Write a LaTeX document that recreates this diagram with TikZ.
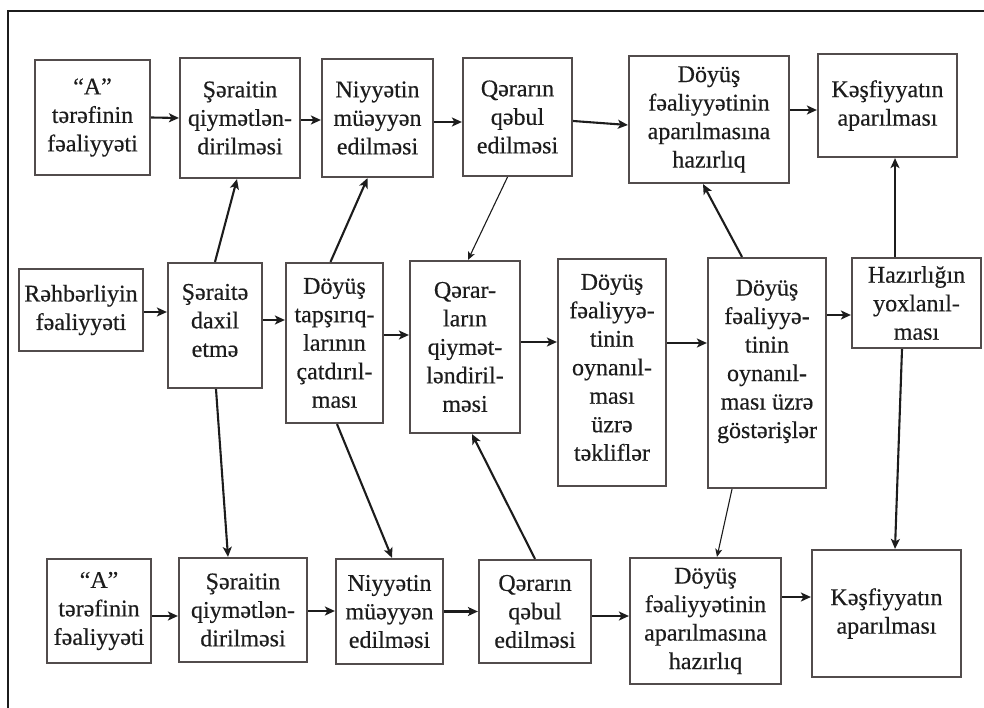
\documentclass[tikz,border=0pt]{standalone}
\usepackage{fontspec}
\setmainfont{Liberation Serif}
\newfontfamily\boxfont[FakeBold=0.4]{Liberation Serif}
\usetikzlibrary{arrows.meta}
\definecolor{boxline}{RGB}{82,76,76}
\definecolor{ink}{RGB}{28,28,28}
\tikzset{
  blk/.style={draw=boxline, line width=2.2pt, inner sep=0pt, align=center,
    text=ink, font=\boxfont\fontsize{24}{28.5}\selectfont},
  txt/.style={inner sep=0pt, align=center, text=ink,
    font=\boxfont\fontsize{24}{28.5}\selectfont},
  conn/.style={draw=ink, line width=2.1pt,
    -{Stealth[length=10pt,width=9pt,inset=2.5pt]}},
  thin/.style={draw=ink, line width=1.1pt,
    -{Stealth[length=8pt,width=7pt,inset=2pt]}},
}
\begin{document}
\begin{tikzpicture}[x=1pt,y=-1pt]
\useasboundingbox (0,0) rectangle (984,708);
% outer frame
\draw[ink, line width=2.6pt] (8,708) -- (8,11) -- (984,11);

% top row
\node[blk, minimum width=115, minimum height=115] (a1) at (92.5,117.5) {“A”\\tərəfinin\\fəaliyyəti};
\node[blk, minimum width=120, minimum height=120] (s1) at (240,118) {Şəraitin\\qiymətlən-\\dirilməsi};
\node[blk, minimum width=111, minimum height=118] (n1) at (377.5,118) {Niyyətin\\müəyyən\\edilməsi};
\node[blk, minimum width=109, minimum height=118] (q1) at (517.5,117) {Qərarın\\qəbul\\edilməsi};
\node[blk, minimum width=160, minimum height=127] (d1) at (709,119.5) {Döyüş\\fəaliyyətinin\\aparılmasına\\hazırlıq};
\node[blk, minimum width=139, minimum height=103] (k1) at (887.5,105.5) {Kəşfiyyatın\\aparılması};

% middle row
\node[blk, minimum width=124, minimum height=82] (r) at (81,310) {Rəhbərliyin\\fəaliyyəti};
\node[blk, minimum width=94, minimum height=125] (s2) at (215,325.5) {};
\node[txt] (s2t) at ([yshift=5pt]s2.center) {Şəraitə\\daxil\\etmə};
\node[blk, minimum width=97, minimum height=160] (dt) at (334.5,343) {Döyüş\\tapşırıq-\\larının\\çatdırıl-\\ması};
\node[blk, minimum width=110, minimum height=172] (qq) at (465,347) {Qərar-\\ların\\qiymət-\\ləndiril-\\məsi};
\node[blk, minimum width=108, minimum height=227] (df) at (612,372.5) {};
\node[txt] (dft) at ([yshift=5pt]df.center) {Döyüş\\fəaliyyə-\\tinin\\oynanıl-\\ması\\üzrə\\təkliflər};
\node[blk, minimum width=118, minimum height=230] (dg) at (767,373) {};
\node[txt] (dgt) at ([yshift=11.5pt]dg.center) {Döyüş\\fəaliyyə-\\tinin\\oynanıl-\\ması üzrə\\göstərişlər};
\node[blk, minimum width=129, minimum height=90] (h) at (916.5,303) {Hazırlığın\\yoxlanıl-\\ması};

% bottom row
\node[blk, minimum width=104, minimum height=104] (a2) at (99,611) {“A”\\tərəfinin\\fəaliyyəti};
\node[blk, minimum width=128, minimum height=104] (s3) at (243,610) {Şəraitin\\qiymətlən-\\dirilməsi};
\node[blk, minimum width=107, minimum height=105] (n2) at (389.5,611.5) {Niyyətin\\müəyyən\\edilməsi};
\node[blk, minimum width=112, minimum height=103] (q2) at (535,611.5) {Qərarın\\qəbul\\edilməsi};
\node[blk, minimum width=151, minimum height=126] (d2) at (705.5,621) {Döyüş\\fəaliyyətinin\\aparılmasına\\hazırlıq};
\node[blk, minimum width=149, minimum height=127] (k2) at (886.5,613.5) {Kəşfiyyatın\\aparılması};

% horizontal flow, top row
\draw[conn] (a1.east) -- (s1.west);
\draw[conn] ([yshift=-2pt]s1.east) -- ([yshift=-2pt]n1.west);
\draw[conn] ([yshift=-4pt]n1.east) -- ([yshift=-5pt]q1.west);
\draw[conn] ([yshift=-4pt]q1.east) -- ([yshift=-5.5pt]d1.west);
\draw[conn] ([yshift=9.5pt]d1.east) -- ([yshift=-4.5pt]k1.west);

% horizontal flow, middle row
\draw[conn] ([yshift=-2pt]r.east) -- ([yshift=13.5pt]s2.west);
\draw[conn] ([yshift=5.5pt]s2.east) -- ([yshift=23pt]dt.west);
\draw[conn] ([yshift=8pt]dt.east) -- ([yshift=12pt]qq.west);
\draw[conn] ([yshift=5pt]qq.east) -- ([yshift=30.5pt]df.west);
\draw[conn] ([yshift=29.5pt]df.east) -- ([yshift=30pt]dg.west);
\draw[conn] ([yshift=58pt]dg.east) -- ([yshift=-12pt]h.west);

% horizontal flow, bottom row
\draw[conn] ([yshift=-5pt]a2.east) -- ([yshift=-6pt]s3.west);
\draw[conn] ([yshift=-1pt]s3.east) -- ([yshift=0.5pt]n2.west);
\draw[conn] (n2.east) -- (q2.west);
\draw[conn] ([yshift=-4.5pt]q2.east) -- ([yshift=5pt]d2.west);
\draw[conn] ([yshift=24pt]d2.east) -- ([yshift=16.5pt]k2.west);

% links between the rows
\draw[conn] (s2.north) -- ([xshift=-3pt]s1.south);
\draw[conn] ([xshift=-4pt]dt.north) -- ([xshift=-10pt]n1.south);
\draw[thin] ([xshift=-10pt]q1.south) -- ([xshift=3pt]qq.north);
\draw[conn] ([xshift=-25pt]dg.north) -- ([xshift=-6pt]d1.south);
\draw[conn] ([xshift=-21.5pt]h.north) -- ([xshift=7.5pt]k1.south);
\draw[conn] ([xshift=1pt]s2.south) -- ([xshift=-15pt]s3.north);
\draw[conn] ([xshift=2.5pt]dt.south) -- ([xshift=2.5pt]n2.north);
\draw[conn] (q2.north) -- ([xshift=7pt]qq.south);
\draw[thin] ([xshift=-35pt]dg.south) -- ([xshift=11.5pt]d2.north);
\draw[conn] ([xshift=-14.5pt]h.south) -- ([xshift=8.5pt]k2.north);
\end{tikzpicture}
\end{document}
